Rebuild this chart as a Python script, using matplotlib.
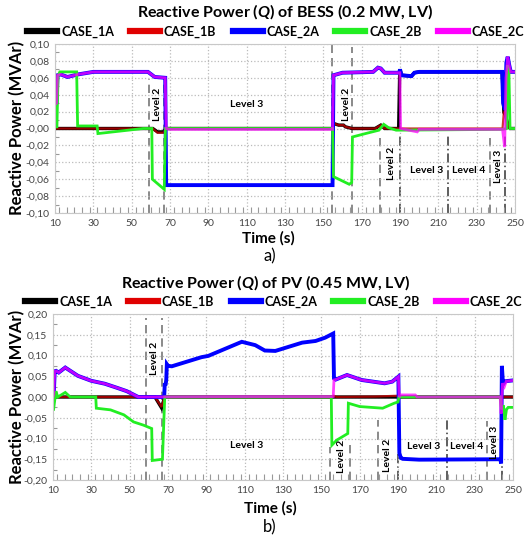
import matplotlib
matplotlib.use("Agg")
import matplotlib.pyplot as plt
from matplotlib.lines import Line2D
from matplotlib.ticker import MultipleLocator

plt.rcParams["font.family"] = ["Lato", "DejaVu Sans"]
plt.rcParams["mathtext.fontset"] = "custom"
plt.rcParams["mathtext.rm"] = "Lato:bold"
plt.rcParams["mathtext.it"] = "Lato:italic:bold"

# ---- data: BESS (panel a) ----
t_bess_1a = [10, 61, 63.5, 66.5, 68, 154.8, 155.3, 158, 160.5, 161.5, 165, 177, 180, 182, 189.3, 189.8,
             190.2, 190.8, 196, 197.5, 200, 243.3, 244.2, 245, 246.5, 247.5, 250]
q_bess_1a = [0.0, 0.0, -0.004, -0.004, 0.0, 0.0, 0.006, 0.004, 0.004, 0.002, 0.0, 0.0, 0.004, 0.0, 0.0, 0.062,
             0.068, 0.063, 0.062, 0.066, 0.067, 0.067, 0.019, 0.016, 0.003, 0.0, 0.0]
t_bess_1b = [10, 61, 63.5, 66.5, 68, 154.8, 155.3, 158, 160.5, 161.5, 165, 177, 180, 182, 243.5, 244.2, 245,
             246.5, 247.5, 250]
q_bess_1b = [0.0, 0.0, -0.005, -0.005, 0.0, 0.0, 0.006, 0.004, 0.004, 0.002, 0.0, 0.0, 0.004, 0.0, 0.0, 0.020,
             0.017, 0.003, 0.0, 0.0]
t_bess_2a = [10, 10.8, 11.3, 13, 16.5, 22, 30, 58.5, 62, 67.5, 68.0, 100, 154.8, 155.3, 160, 176, 178.5, 180,
             182, 189.6, 190.0, 190.8, 196, 197.5, 200, 243.3, 243.8, 244.8, 245.5, 246.2, 247.0, 247.8, 250]
q_bess_2a = [0.028, 0.030, 0.063, 0.064, 0.061, 0.064, 0.067, 0.067, 0.061, 0.060, -0.067, -0.067, -0.067,
             0.063, 0.066, 0.067, 0.072, 0.071, 0.066, 0.066, 0.070, 0.063, 0.062, 0.066, 0.067, 0.067, 0.030,
             0.022, 0.078, 0.085, 0.075, 0.067, 0.067]
t_bess_2b = [10, 10.5, 11.0, 11.6, 12.5, 21.3, 21.8, 32.0, 32.4, 56, 60.5, 60.8, 67.0, 67.6, 154.8, 155.3,
             163.5, 164.8, 165.2, 172, 179, 181.5, 184, 188, 243.5, 245.6, 246.1, 246.8, 247.4, 250]
q_bess_2b = [0.008, 0.002, 0.002, 0.062, 0.067, 0.067, 0.003, 0.003, -0.006, 0.0, 0.0, -0.060, -0.072, 0.0,
             0.0, -0.057, -0.066, -0.064, -0.010, -0.006, -0.002, 0.005, 0.001, -0.002, -0.001, 0.0, 0.075,
             0.070, 0.0, 0.0]
t_bess_2c = [10, 10.8, 11.3, 13, 16.5, 22, 30, 58.5, 62, 67.5, 68.0, 70, 154.8, 155.3, 160, 176, 178.5, 180,
             182, 189.9, 190.3, 199, 200, 243.5, 244.6, 245.3, 246.2, 247.0, 247.8, 250]
q_bess_2c = [0.028, 0.030, 0.063, 0.064, 0.061, 0.064, 0.067, 0.067, 0.061, 0.060, 0.0, -0.001, -0.001, 0.063,
             0.066, 0.067, 0.072, 0.071, 0.066, 0.066, 0.0, -0.004, -0.001, -0.001, -0.022, 0.060, 0.085,
             0.075, 0.067, 0.067]

# ---- data: PV (panel b) ----
t_pv_1a = [10, 63.2, 66.6, 68.3, 250]
q_pv_1a = [0.0, 0.0, -0.026, 0.0, 0.0]
t_pv_1b = [10, 63.2, 66.6, 68.3, 155.5, 156.5, 158, 178, 189.5, 190.5, 250]
q_pv_1b = [0.0, 0.0, -0.024, 0.0, 0.0, 0.003, 0.0, 0.001, 0.003, 0.0, 0.0]
t_pv_2a = [10, 10.4, 10.9, 11.6, 13, 16.4, 23, 30, 37, 43.5, 48.5, 54.5, 68.0, 68.3, 68.8, 69.1, 69.4, 70, 72,
           87.5, 91, 108.5, 115.5, 120.5, 126, 133, 140, 147, 152, 156.2, 156.6, 157.5, 163.4, 171, 183, 187,
           190.2, 190.7, 191.5, 192.5, 201, 243.4, 243.8, 244.2, 244.8, 246, 250]
q_pv_2a = [0.0, 0.006, 0.062, 0.063, 0.059, 0.071, 0.051, 0.039, 0.032, 0.022, 0.014, 0.0, 0.0, 0.030, 0.031,
           0.042, 0.079, 0.075, 0.074, 0.096, 0.099, 0.133, 0.125, 0.112, 0.111, 0.121, 0.131, 0.135, 0.143,
           0.153, 0.045, 0.042, 0.053, 0.041, 0.033, 0.037, 0.049, -0.135, -0.147, -0.149, -0.151, -0.150,
           -0.160, 0.075, 0.030, 0.038, 0.040]
t_pv_2b = [10, 10.3, 11.5, 12.5, 16.4, 19, 32.3, 32.6, 40, 47, 52, 57.3, 61.5, 61.8, 67.1, 68.3, 155.2, 155.5,
           158, 163.8, 164.1, 170, 182, 188, 190, 190.5, 243.4, 244, 245, 245.8, 246.6, 247.5, 250]
q_pv_2b = [-0.03, -0.03, 0.014, 0.0, 0.011, 0.0, 0.0, -0.027, -0.031, -0.043, -0.060, -0.068, -0.076, -0.153,
           -0.150, 0.0, 0.0, -0.116, -0.104, -0.088, -0.015, -0.023, -0.027, -0.015, -0.012, 0.0, 0.0, -0.030,
           -0.020, -0.055, -0.030, -0.025, -0.025]
t_pv_2c = [10, 10.4, 10.9, 11.6, 13, 16.4, 23, 30, 37, 43.5, 48.5, 54.5, 100, 156.2, 156.6, 157.5, 163.4, 171,
           183, 187, 190.2, 190.6, 191.5, 199, 200, 243.3, 243.8, 244.5, 245.5, 246.5, 250]
q_pv_2c = [0.0, 0.006, 0.062, 0.063, 0.059, 0.071, 0.051, 0.039, 0.032, 0.022, 0.014, 0.0, 0.001, 0.001, 0.041,
           0.042, 0.053, 0.041, 0.033, 0.037, 0.049, 0.0, 0.005, 0.005, 0.0, 0.0, -0.04, 0.033, 0.025, 0.038,
           0.040]

case_names = ["CASE_1A", "CASE_1B", "CASE_2A", "CASE_2B", "CASE_2C"]
case_colors = ["#000000", "#e00000", "#0000ff", "#22ee22", "#ff00ff"]

# level marker lines (time, top of line) and labels
vl_bess_t = [59, 67, 154.5, 165, 179.5, 190, 215, 237, 245]
vl_bess_top = [0.058, 0.058, 0.10, 0.097, -0.008, -0.008, -0.008, -0.008, -0.008]
vl_pv_t = [58.7, 67, 154.3, 165, 179.4, 189.9, 215.7, 236.3, 244]
vl_pv_top = [0.19, 0.19, -0.12, -0.11, -0.055, -0.13, -0.055, -0.057, -0.06]
vl_dashdot = [False, False, False, False, False, True, True, False, True]

lab_text = ["Level 2", "Level 3", "Level 2", "Level 2", "Level 3", "Level 4", "Level 3"]
lab_rot = [90, 0, 90, 90, 0, 0, 90]
lab_bess_t = [63.5, 110, 162, 185.5, 204, 226, 241.5]
lab_bess_q = [0.028, 0.028, 0.028, -0.041, -0.05, -0.05, -0.045]
lab_pv_t = [63, 111, 160.4, 184.6, 203.4, 225.6, 240.4]
lab_pv_q = [0.094, -0.118, -0.144, -0.14, -0.12, -0.12, -0.11]

yt_bess = [-0.10, -0.08, -0.06, -0.04, -0.02, 0.0, 0.02, 0.04, 0.06, 0.08, 0.10]
yt_bess_lab = ["-0,10", "-0,08", "-0,06", "-0,04", "-0,02", "-0,00", "0,02", "0,04", "0,06", "0,08", "0,10"]
yt_pv = [-0.20, -0.15, -0.10, -0.05, 0.0, 0.05, 0.10, 0.15, 0.20]
yt_pv_lab = ["-0,20", "-0,15", "-0,10", "-0,05", "0,00", "0,05", "0,10", "0,15", "0,20"]
xt = list(range(10, 251, 20))

fig = plt.figure(figsize=(5.32, 5.37), dpi=100)
ax1 = fig.add_axes([55 / 532, 1 - 213 / 537, 460 / 532, 169 / 537])
ax2 = fig.add_axes([53 / 532, 1 - 480 / 537, 460 / 532, 166 / 537])


def draw_panel(ax, series, vl_t, vl_top, labx, laby, yt, ytl, ylim, minor_y):
    for t, q, c, lw, a in series:
        ax.plot(t, q, color=c, lw=lw, alpha=a, solid_joinstyle="miter")
    for x, top, dd in zip(vl_t, vl_top, vl_dashdot):
        if dd:
            ax.plot([x, x], [ylim[0], top], color="#333333", lw=1.1, ls=(0, (6, 2, 1, 2)), zorder=1)
        else:
            ax.plot([x, x], [ylim[0], top], color="#777777", lw=1.2, ls=(0, (5, 3)), zorder=1)
    for s, x, y, r in zip(lab_text, labx, laby, lab_rot):
        ax.text(x, y, s, rotation=r, ha="center", va="center", fontsize=7.5, fontweight="bold")
    ax.set_xlim(10, 250)
    ax.set_ylim(*ylim)
    ax.set_xticks(xt)
    ax.set_xticklabels([str(v) for v in xt])
    ax.set_yticks(yt)
    ax.set_yticklabels(ytl)
    ax.xaxis.set_minor_locator(MultipleLocator(4))
    ax.yaxis.set_minor_locator(MultipleLocator(minor_y))
    ax.tick_params(which="major", length=0, labelsize=7.5, labelcolor="#444444", pad=4)
    ax.tick_params(which="minor", direction="in", length=4, color="#999999", width=0.8)
    ax.tick_params(axis="y", which="minor", length=3)
    ax.grid(True, which="major", ls=":", color="#bbbbbb", lw=0.9)
    for sp in ax.spines.values():
        sp.set_color("#c8c8c8")
    handles = [Line2D([0], [0], color=c, lw=4.5) for c in case_colors]
    ax.legend(handles, case_names, loc="lower center", bbox_to_anchor=(0.48, 1.0), ncol=5, frameon=False,
              handlelength=2.4, handletextpad=0.3, columnspacing=1.3, borderaxespad=0.1,
              prop={"size": 9, "weight": "bold"})


series_bess = [(t_bess_1a, q_bess_1a, case_colors[0], 2.4, 1.0),
               (t_bess_1b, q_bess_1b, "#c00000", 1.6, 0.8),
               (t_bess_2a, q_bess_2a, case_colors[2], 2.8, 1.0),
               (t_bess_2b, q_bess_2b, case_colors[3], 2.0, 1.0),
               (t_bess_2c, q_bess_2c, case_colors[4], 2.0, 0.75)]
series_pv = [(t_pv_1a, q_pv_1a, case_colors[0], 2.4, 1.0),
             (t_pv_1b, q_pv_1b, "#c00000", 1.6, 0.8),
             (t_pv_2a, q_pv_2a, case_colors[2], 2.8, 1.0),
             (t_pv_2b, q_pv_2b, case_colors[3], 2.0, 1.0),
             (t_pv_2c, q_pv_2c, case_colors[4], 2.0, 0.75)]

draw_panel(ax1, series_bess, vl_bess_t, vl_bess_top, lab_bess_t, lab_bess_q, yt_bess, yt_bess_lab,
           (-0.10, 0.10), 0.01)
draw_panel(ax2, series_pv, vl_pv_t, vl_pv_top, lab_pv_t, lab_pv_q, yt_pv, yt_pv_lab, (-0.20, 0.20), 0.025)

# titles, axis labels, panel letters
fig.text(285 / 532, 1 - 12 / 537, r"Reactive Power ($Q$) of BESS (0.2 MW, LV)", ha="center", va="center",
         fontsize=11.5, fontweight="bold")
fig.text(266 / 532, 1 - 283 / 537, r"Reactive Power ($Q$) of PV (0.45 MW, LV)", ha="center", va="center",
         fontsize=11.5, fontweight="bold")
fig.text(17 / 532, 1 - 128 / 537, "Reactive Power (MVAr)", rotation=90, ha="center", va="center",
         fontsize=12, fontweight="bold")
fig.text(17 / 532, 1 - 397 / 537, "Reactive Power (MVAr)", rotation=90, ha="center", va="center",
         fontsize=12, fontweight="bold")
fig.text(268 / 532, 1 - 238 / 537, "Time (s)", ha="center", va="center", fontsize=11, fontweight="bold")
fig.text(270 / 532, 1 - 256 / 537, "a)", ha="center", va="center", fontsize=12)
fig.text(270 / 532, 1 - 508 / 537, "Time (s)", ha="center", va="center", fontsize=11, fontweight="bold")
fig.text(270 / 532, 1 - 527 / 537, "b)", ha="center", va="center", fontsize=12)

fig.savefig("out.png", dpi=100)
